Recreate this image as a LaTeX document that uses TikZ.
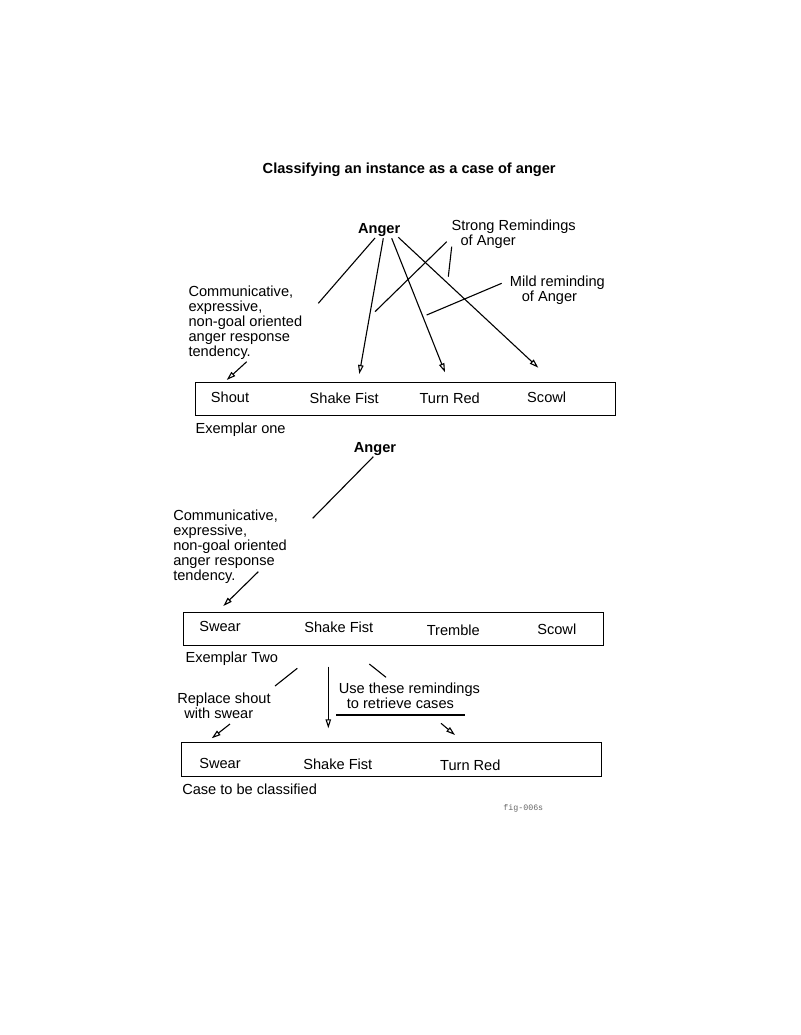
\documentclass[tikz,border=0pt]{standalone}
\usepackage{fontspec}
\setmainfont{Liberation Sans}
\setmonofont{Liberation Mono}
\usetikzlibrary{arrows.meta}
\begin{document}
\begin{tikzpicture}[x=1pt,y=-1pt,line width=1.1pt,
   txt/.style={inner sep=0pt,font=\fontsize{14.6}{15}\selectfont},
   bold/.style={txt,font=\bfseries\fontsize{14.6}{15}\selectfont},
   multi/.style={txt,anchor=north west,align=left},
   casebox/.style={draw,anchor=north west,minimum width=420,minimum height=33.3,inner sep=0pt},
   opentip/.style={-{Triangle[open,length=9pt,width=5.5pt]}}]
   \useasboundingbox (0,0) rectangle (800,1035);
   \node[bold,anchor=base] (title) at (409.2,174) {Classifying an instance as a case of anger};
   % exemplar one
   \node[bold,anchor=base] (angerA) at (379.2,233.3) {Anger};
   \node[multi] (strong) at (451,219.7) {Strong Remindings\\\hspace*{9pt}of Anger};
   \node[multi] (mild) at (509.3,275) {Mild reminding\\\hspace*{12pt}of Anger};
   \node[multi] (commA) at (188,285) {Communicative,\\expressive,\\non-goal oriented\\anger response\\tendency.};
   \node[casebox] (exA) at (195,381.7) {};
   \node[txt,anchor=base] (shoutA) at (230,402.5) {Shout};
   \node[txt,anchor=base] (fistA) at (344.2,403) {Shake Fist};
   \node[txt,anchor=base] (redA) at (449.7,403.5) {Turn Red};
   \node[txt,anchor=base] (scowlA) at (546.7,402) {Scowl};
   \node[txt,anchor=base west] (exAlbl) at (195,433.5) {Exemplar one};
   \coordinate (a1) at (375,238);   \coordinate (a1e) at (318.3,303.3);
   \coordinate (a2) at (383.3,238.3); \coordinate (a2e) at (359.3,374);
   \coordinate (a3) at (391.7,238.3); \coordinate (a3e) at (445,372.3);
   \coordinate (a4) at (398.3,237.3); \coordinate (a4e) at (538.3,367.7);
   \coordinate (s1) at (446.7,241.7); \coordinate (s1e) at (375,311.7);
   \coordinate (s2) at (451.7,246.7); \coordinate (s2e) at (448.3,276.7);
   \coordinate (m1) at (501.7,283.3); \coordinate (m1e) at (426.7,315);
   \coordinate (c1) at (246.7,361.7); \coordinate (c1e) at (226.7,380);
   \draw (a1) -- (a1e);
   \draw[opentip] (a2) -- (a2e);
   \draw[opentip] (a3) -- (a3e);
   \draw[opentip] (a4) -- (a4e);
   \draw (s1) -- (s1e);
   \draw (s2) -- (s2e);
   \draw (m1) -- (m1e);
   \draw[opentip] (c1) -- (c1e);
   % exemplar two
   \node[bold,anchor=base] (angerB) at (375,452.7) {Anger};
   \node[multi] (commB) at (172.7,509) {Communicative,\\expressive,\\non-goal oriented\\anger response\\tendency.};
   \node[casebox] (exB) at (182.7,611.7) {};
   \node[txt,anchor=base] (swearB) at (220,631.7) {Swear};
   \node[txt,anchor=base] (fistB) at (338.8,632.7) {Shake Fist};
   \node[txt,anchor=base] (trembleB) at (453.3,635) {Tremble};
   \node[txt,anchor=base] (scowlB) at (556.8,634) {Scowl};
   \node[txt,anchor=base west] (exBlbl) at (185,662.7) {Exemplar Two};
   \coordinate (b1) at (373.3,456.7); \coordinate (b1e) at (312.7,518.3);
   \coordinate (c2) at (258.3,571.7); \coordinate (c2e) at (223.3,606);
   \draw (b1) -- (b1e);
   \draw[opentip] (c2) -- (c2e);
   % case to be classified
   \node[multi] (use) at (338.3,682) {Use these remindings\\\hspace*{8pt}to retrieve cases};
   \node[multi] (replace) at (176.7,692.5) {Replace shout\\\hspace*{7pt}with swear};
   \node[casebox] (exC) at (180.7,742.3) {};
   \node[txt,anchor=base] (swearC) at (220,768.3) {Swear};
   \node[txt,anchor=base] (fistC) at (337.8,769) {Shake Fist};
   \node[txt,anchor=base] (redC) at (470.3,770) {Turn Red};
   \node[txt,anchor=base west] (exClbl) at (181.7,794) {Case to be classified};
   \node[inner sep=0pt,anchor=base,text=gray!80!black,font=\ttfamily\fontsize{8.3}{9}\selectfont] (fig) at (523.3,810) {fig-006s};
   \coordinate (r1) at (297.3,668.3); \coordinate (r1e) at (275,686);
   \coordinate (d1) at (328.3,666.7); \coordinate (d1e) at (328.3,728.3);
   \coordinate (u1) at (369.3,664);   \coordinate (u1e) at (386,677.3);
   \coordinate (ul) at (336,715);     \coordinate (ule) at (465,715);
   \coordinate (t1) at (441,723.3);   \coordinate (t1e) at (455,735);
   \coordinate (w1) at (230,724);     \coordinate (w1e) at (211.7,738.3);
   \draw (r1) -- (r1e);
   \draw[opentip] (d1) -- (d1e);
   \draw (u1) -- (u1e);
   \draw (ul) -- (ule);
   \draw[opentip] (t1) -- (t1e);
   \draw[opentip] (w1) -- (w1e);
\end{tikzpicture}
\end{document}
